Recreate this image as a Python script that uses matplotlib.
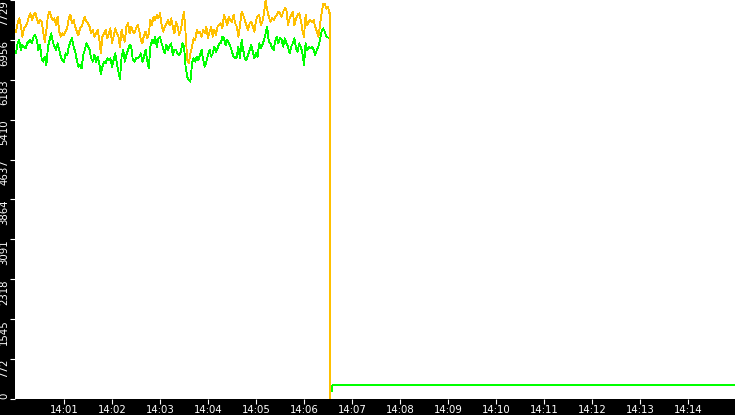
import numpy as np
import matplotlib
matplotlib.use("Agg")
import matplotlib.pyplot as plt
from matplotlib.ticker import FuncFormatter, FixedLocator

# readings every 2 s starting 14:00:00 (time axis in seconds after 14:00)
sample_step = 2

orange_vals = [
    7116, 7277, 7374, 7245, 7019, 7180, 7212, 7277, 7406, 7471, 7342, 7438, 7484, 7374, 7277, 7342, 7309, 7116, 6922, 7148,
    7438, 7503, 7406, 7342, 7374, 7245, 7406, 7116, 7019, 7083, 7051, 7116, 7180, 7374, 7438, 7277, 7342, 7212, 7116, 7051,
    7180, 7212, 7309, 7406, 7309, 7277, 7212, 7083, 7148, 7019,
    7083, 7148, 6986, 6696, 7019, 7083, 7148, 6986, 7083, 7180, 6890, 7019, 7180, 7083, 7019, 6825, 7148, 7019, 6922, 7212,
    7277, 7083, 7212, 7116, 7083, 7180, 7245, 7148, 6954, 6890, 7051, 7116, 6986, 7083, 7342, 7245, 7406, 7342, 7438, 7374,
    7471, 7245, 7116, 7212, 7277, 7342, 7245, 7374, 7212, 7083,
    7309, 7212, 7051, 7148, 7342, 7503, 7083, 6567, 6502, 6696, 6825, 6986, 6954, 7148, 7083, 7116, 7019, 7148, 7083, 7212,
    6986, 7116, 7212, 7019, 7148, 7051, 7212, 7245, 7277, 7180, 7438, 7342, 7245, 7406, 7342, 7309, 7438, 7277, 7212, 7019,
    7245, 7503, 7438, 7342, 7245, 7148, 7277, 7309, 7212, 7116,
    7342, 7406, 7438, 7245, 7309, 7471, 7720, 7535, 7406, 7309, 7374, 7342, 7406, 7438, 7503, 7471, 7406, 7503, 7568, 7535,
    7245, 7374, 7438, 7503, 7245, 7374, 7438, 7471, 7342, 7148, 7019, 7438, 7245, 7309, 7342, 7309, 7342, 7212, 7116, 7019,
    7245, 7471, 7660, 7650, 7560,
]

green_vals = [
    6696, 6890, 6954, 6760, 6857, 6825, 6793, 6890, 6922, 6954, 6890, 7019, 7051, 6954, 6760, 6857, 6599, 6535, 6631, 6470,
    6825, 6954, 7083, 6922, 6825, 6760, 6890, 6760, 6631, 6567, 6535, 6696, 6664, 6825, 6922, 6986, 6825, 6728, 6567, 6438,
    6470, 6405, 6664, 6760, 6890, 6825, 6760, 6599, 6535, 6664,
    6535, 6631, 6502, 6300, 6438, 6535, 6502, 6599, 6567, 6599, 6438, 6567, 6696, 6502, 6341, 6200, 6631, 6760, 6535, 6664,
    6760, 6857, 6825, 6567, 6535, 6599, 6599, 6631, 6696, 6535, 6631, 6760, 6567, 6405, 6825, 6954, 6890, 7019, 6825, 6986,
    7019, 6890, 6793, 6696, 6857, 6760, 6825, 6890, 6664, 6760,
    6760, 6696, 6664, 6728, 6890, 6825, 6438, 6244, 6179, 6147, 6502, 6599, 6535, 6631, 6567, 6664, 6760, 6567, 6438, 6535,
    6664, 6760, 6631, 6696, 6825, 6728, 6793, 6890, 6890, 7019, 6986, 6857, 6954, 6890, 6825, 6728, 6631, 6599, 6631, 6825,
    6599, 6954, 6760, 6599, 6567, 6664, 6760, 6857, 6728, 6599,
    6696, 6631, 6890, 6793, 6857, 6954, 7083, 7212, 6922, 6890, 6793, 6760, 6922, 7019, 6890, 6986, 6954, 6825, 6986, 6890,
    6825, 6696, 6825, 6890, 6986, 6793, 6728, 6890, 6825, 6696, 6470, 6890, 6760, 6825, 6793, 6825, 6760, 6664, 6760, 6825,
    6954, 7116, 7180, 7116, 7019,
]

# what happens at the drop (seconds, values)
orange_tail_t = [390.0, 391.5, 392.9, 393.0]
orange_tail_v = [7600, 7480, 7470, 0]
green_tail_t = [391.5, 392.9, 393.0, 393.0, 394.5, 395.5, 899.0]
green_tail_v = [6990, 6990, 3720, 150, 150, 265, 265]

y_max = 7729
minute_ticks = list(range(1, 15))

ORANGE = '#FFC000'
GREEN = '#00FF00'

t_orange = np.concatenate([np.arange(len(orange_vals)) * sample_step, orange_tail_t])
v_orange = np.concatenate([orange_vals, orange_tail_v])
t_green = np.concatenate([np.arange(len(green_vals)) * sample_step, green_tail_t])
v_green = np.concatenate([green_vals, green_tail_v])

W, H = 735, 415
fig = plt.figure(figsize=(W / 100, H / 100), dpi=100, facecolor='black')
ax = fig.add_axes([15 / W, 16 / H, 720 / W, 399 / H])
ax.set_facecolor('white')

ax.plot(t_green, v_green, color=GREEN, lw=0.6, antialiased=False)
ax.plot(t_orange, v_orange, color=ORANGE, lw=0.6, antialiased=False)

ax.set_xlim(-1.25, 898.75)
ax.set_ylim(0, y_max)

for s in ax.spines.values():
    s.set_visible(False)

ax.xaxis.set_major_locator(FixedLocator([m * 60 for m in minute_ticks]))
ax.xaxis.set_major_formatter(FuncFormatter(lambda v, p: '14:%02d' % int(round(v / 60))))
ax.yaxis.set_major_locator(FixedLocator([y_max * i / 10 for i in range(11)]))
ax.yaxis.set_major_formatter(FuncFormatter(lambda v, p: '%d' % int(v + 1e-6)))

ax.tick_params(axis='both', colors='white', labelcolor='white', length=3.6, width=0.8,
               direction='out', labelsize=7.3, pad=0.6)

for lab in ax.get_yticklabels():
    lab.set_rotation(90)
    lab.set_verticalalignment('top')
    lab.set_horizontalalignment('right')
ax.get_yticklabels()[0].set_verticalalignment('bottom')

fig.savefig('out.png', dpi=100, facecolor='black')
